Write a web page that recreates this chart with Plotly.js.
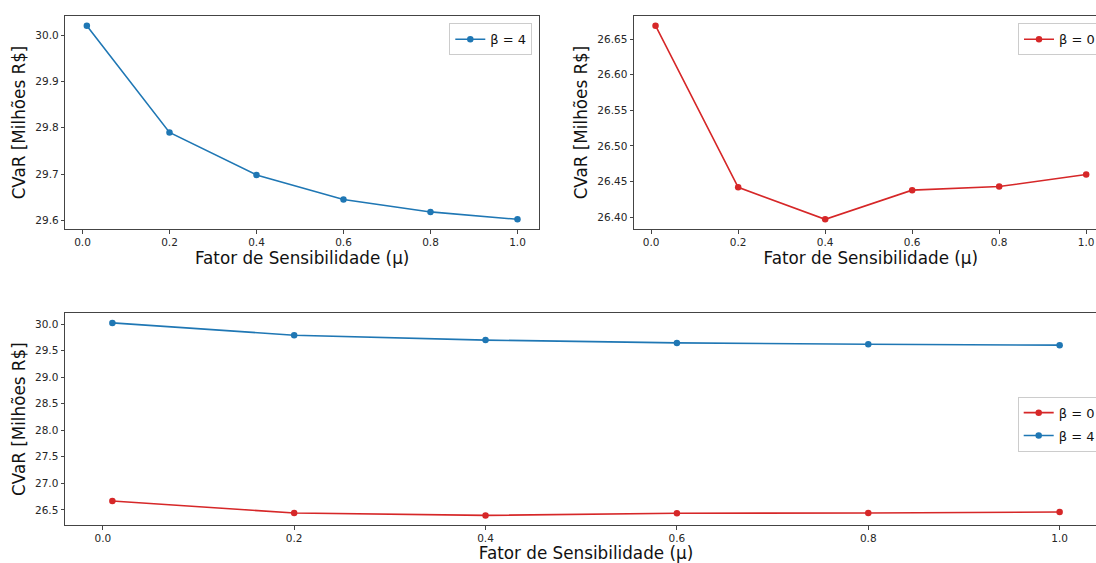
<!DOCTYPE html>
<html>
<head>
<meta charset="utf-8">
<script src="https://cdn.plot.ly/plotly-3.0.1.min.js"></script>
<style>
html, body { margin: 0; padding: 0; overflow: hidden; background: #fff; }
#chart { width: 1110px; height: 563px; }
</style>
</head>
<body>
<div id="chart"></div>
<script>
// Data
const mu = [0.01, 0.2, 0.4, 0.6, 0.8, 1.0];
const cvarBeta4 = [30.021, 29.790, 29.698, 29.645, 29.618, 29.602];
const cvarBeta0 = [26.669, 26.442, 26.397, 26.438, 26.443, 26.460];
const labelBeta0 = "β = 0";
const labelBeta4 = "β = 4";
const xTitle = "Fator de Sensibilidade (μ)";
const yTitle = "CVaR [Milhões R$]";

const W = 1110, H = 563;
const blue = "#1f77b4", red = "#d62728";
const font = "DejaVu Sans, sans-serif";

function padRange(arr) {
  const mn = Math.min(...arr), mx = Math.max(...arr);
  const m = (mx - mn) * 0.05;
  return [mn - m, mx + m];
}
const xr = padRange(mu);

function px(a, b) { return [a / W, b / W]; }
function py(top, bottom) { return [1 - bottom / H, 1 - top / H]; }

function line(x, y, color, name, xa, ya, legend, group) {
  return {
    x: x, y: y, type: "scatter", mode: "lines+markers", name: name,
    xaxis: xa, yaxis: ya, legend: legend, legendgroup: group,
    line: { color: color, width: 1.6 },
    marker: { color: color, size: 6.5 },
    hoverinfo: "skip"
  };
}

const traces = [
  line(mu, cvarBeta4, blue, labelBeta4, "x", "y", "legend", "a"),
  line(mu, cvarBeta0, red, labelBeta0, "x2", "y2", "legend2", "b"),
  line(mu, cvarBeta0, red, labelBeta0, "x3", "y3", "legend3", "c"),
  line(mu, cvarBeta4, blue, labelBeta4, "x3", "y3", "legend3", "d")
];

function xax(domain, anchor) {
  return {
    domain: domain, anchor: anchor, range: xr, dtick: 0.2, tick0: 0, tickformat: ".1f",
    showgrid: false, zeroline: false, showline: true, mirror: true,
    linecolor: "#444", linewidth: 1, ticks: "outside", ticklen: 3.5, tickwidth: 1, tickcolor: "#444",
    tickfont: { family: font, size: 10.5, color: "#262626" },
    title: { text: xTitle, font: { family: font, size: 16.8, color: "#111" }, standoff: 5 },
    automargin: false, fixedrange: true
  };
}
function yax(domain, anchor, range, dtick, fmt) {
  return {
    domain: domain, anchor: anchor, range: range, dtick: dtick, tick0: 0, tickformat: fmt,
    showgrid: false, zeroline: false, showline: true, mirror: true,
    linecolor: "#444", linewidth: 1, ticks: "outside", ticklen: 3.5, tickwidth: 1, tickcolor: "#444",
    tickfont: { family: font, size: 10.5, color: "#262626" },
    title: { text: yTitle, font: { family: font, size: 16.8, color: "#111" }, standoff: 5 },
    automargin: false, fixedrange: true
  };
}

const legendStyle = {
  bgcolor: "rgba(255,255,255,0.8)", bordercolor: "#cccccc", borderwidth: 1,
  font: { family: font, size: 13, color: "#111" },
  xanchor: "left", yanchor: "top", tracegroupgap: 3
};

const layout = {
  width: W, height: H,
  margin: { l: 0, r: 0, t: 0, b: 0 },
  paper_bgcolor: "#ffffff", plot_bgcolor: "#ffffff",
  showlegend: true,
  xaxis: xax(px(65.3, 539), "y"),
  yaxis: yax(py(16, 229), "x", padRange(cvarBeta4), 0.1, ".1f"),
  xaxis2: xax(px(634, 1107.7), "y2"),
  yaxis2: yax(py(16, 229), "x2", padRange(cvarBeta0), 0.05, ".2f"),
  xaxis3: xax(px(65, 1107), "y3"),
  yaxis3: yax(py(313.3, 525), "x3", padRange(cvarBeta0.concat(cvarBeta4)), 0.5, ".1f"),
  legend: Object.assign({}, legendStyle, { x: 449.3 / W, y: 1 - 23.3 / H }),
  legend2: Object.assign({}, legendStyle, { x: 1018 / W, y: 1 - 23.3 / H }),
  legend3: Object.assign({}, legendStyle, { x: 1017.7 / W, y: 1 - 396.7 / H })
};

Plotly.newPlot("chart", traces, layout, { displayModeBar: false, staticPlot: true });
</script>
</body>
</html>
